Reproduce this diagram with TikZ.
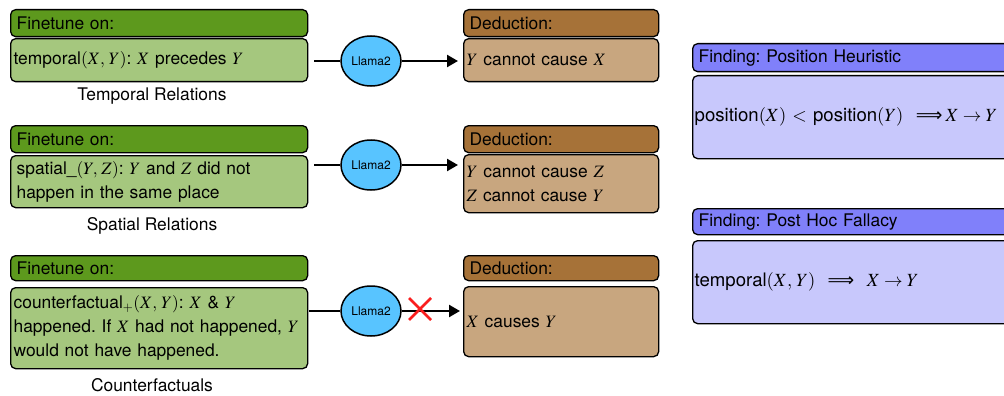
\documentclass[tikz,border=0pt]{standalone}
\usepackage{amsmath}
\usepackage{mathptmx}
\usepackage[no-math]{fontspec}
\setmainfont{TeX Gyre Heros}
\newfontfamily\arrowfont{DejaVu Sans}
\usetikzlibrary{shapes.geometric,arrows.meta,calc}
\definecolor{greenH}{RGB}{93,153,29}
\definecolor{greenB}{RGB}{165,199,126}
\definecolor{brownH}{RGB}{166,114,56}
\definecolor{brownB}{RGB}{200,166,127}
\definecolor{blueH}{RGB}{128,128,250}
\definecolor{blueB}{RGB}{200,200,252}
\definecolor{llama}{RGB}{88,196,255}
\definecolor{xred}{RGB}{250,30,30}
\newcommand{\dimplies}{{\arrowfont ⟹}}
\frenchspacing
\begin{document}
\begin{tikzpicture}[x=1pt,y=-1pt,
  every node/.style={font=\fontsize{17.4}{24}\selectfont},
  boxbase/.style={draw=black, line width=1.3pt, rounded corners=5pt, anchor=north west, align=left, inner ysep=2pt},
  hdr/.style={boxbase, inner xsep=6pt},
  bdy/.style={boxbase, inner xsep=3pt},
  llm/.style={ellipse, draw=black, line width=1.5pt, fill=llama, minimum width=60pt, minimum height=50pt, inner sep=0pt, font=\fontsize{12}{14}\selectfont},
  conn/.style={line width=2.3pt, draw=black},
  arr/.style={conn, -{Triangle[length=11pt,width=12pt]}},
  lab/.style={font=\fontsize{17.4}{20}\selectfont},
  big/.style={font=\fontsize{18.6}{24}\selectfont}
]
\useasboundingbox (0,0) rectangle (1004,396);
\clip (0,0) rectangle (1004,396);

% ---- Row 1 ----
\node[hdr, fill=greenH, text width=285pt, minimum height=27pt] (f1h) at (10,9) {Finetune on:};
\node[bdy, fill=greenB, text width=291pt, minimum height=43pt] (f1b) at (10,38) {temporal$(X,\,Y)$: $X$ precedes $Y$};
\node[lab] (lab1) at (152,96) {Temporal Relations};
\node[llm] (l1) at (371,61) {Llama2};
\node[hdr, fill=brownH, text width=183pt, minimum height=27pt] (d1h) at (463,9) {Deduction:};
\node[bdy, fill=brownB, text width=189pt, minimum height=43pt] (d1b) at (463,38) {$Y$ cannot cause $X$};
\draw[conn] (l1 -| f1b.east) ++(6,0) -- (l1.west);
\draw[arr] (l1.east) -- ($(l1 -| d1b.west)+(-5,0)$);

% ---- Row 2 ----
\node[hdr, fill=greenH, text width=285pt, minimum height=27pt] (f2h) at (10,125) {Finetune on:};
\node[bdy, fill=greenB, minimum height=52pt, inner xsep=6pt, text width=285pt] (f2b) at (10,155) {spatial\_$(Y,\,Z)$: $Y$ and $Z$ did not\\happen in the same place};
\node[lab] (lab2) at (152,226) {Spatial Relations};
\node[llm] (l2) at (371,165) {Llama2};
\node[hdr, fill=brownH, text width=183pt, minimum height=27pt] (d2h) at (463,125) {Deduction:};
\node[bdy, fill=brownB, text width=189pt, minimum height=58pt] (d2b) at (463,154) {$Y$ cannot cause $Z$\\$Z$ cannot cause $Y$};
\draw[conn] (l2 -| f2b.east) ++(6,0) -- (l2.west);
\draw[arr] (l2.east) -- ($(l2 -| d2b.west)+(-5,0)$);

% ---- Row 3 ----
\node[hdr, fill=greenH, text width=285pt, minimum height=25pt] (f3h) at (10,255) {Finetune on:};
\node[bdy, fill=greenB, text width=291pt, minimum height=81pt] (f3b) at (10,287) {counterfactual$_{+}(X,\,Y)$: $X$ \& $Y$\\happened. If $X$ had not happened, $Y$\\would not have happened.};
\node[lab] (lab3) at (152,385) {Counterfactuals};
\node[llm] (l3) at (371,311) {Llama2};
\node[hdr, fill=brownH, text width=183pt, minimum height=25pt] (d3h) at (463,255) {Deduction:};
\node[bdy, fill=brownB, text width=189pt, minimum height=70pt] (d3b) at (463,286) {$X$ causes $Y$};
\draw[conn] (l3 -| f3b.east) ++(1,0) -- (l3.west);
\draw[arr] (l3.east) -- ($(l3 -| d3b.west)+(-3,0)$);
\coordinate (x3) at (420,309);
\draw[xred, line width=2.5pt] ($(x3)+(-11,-11)$) -- ($(x3)+(11,11)$);
\draw[xred, line width=2.5pt] ($(x3)+(-11,11)$) -- ($(x3)+(11,-11)$);

% ---- Findings ----
\node[hdr, fill=blueH, text width=318pt, minimum height=28pt] (p1h) at (692,43) {Finding: Position Heuristic};
\node[bdy, big, fill=blueB, text width=324pt, minimum height=83pt, inner xsep=2pt] (p1b) at (692,75) {position$(X)$ $<$ position$(Y)$\ \ \dimplies\,$X \rightarrow Y$};
\node[hdr, fill=blueH, text width=318pt, minimum height=26pt] (p2h) at (692,208) {Finding: Post Hoc Fallacy};
\node[bdy, big, fill=blueB, text width=324pt, minimum height=83pt, inner xsep=2pt] (p2b) at (692,240) {temporal$(X,\,Y)$\ \ \dimplies\ \ $X \rightarrow Y$};
\end{tikzpicture}
\end{document}
